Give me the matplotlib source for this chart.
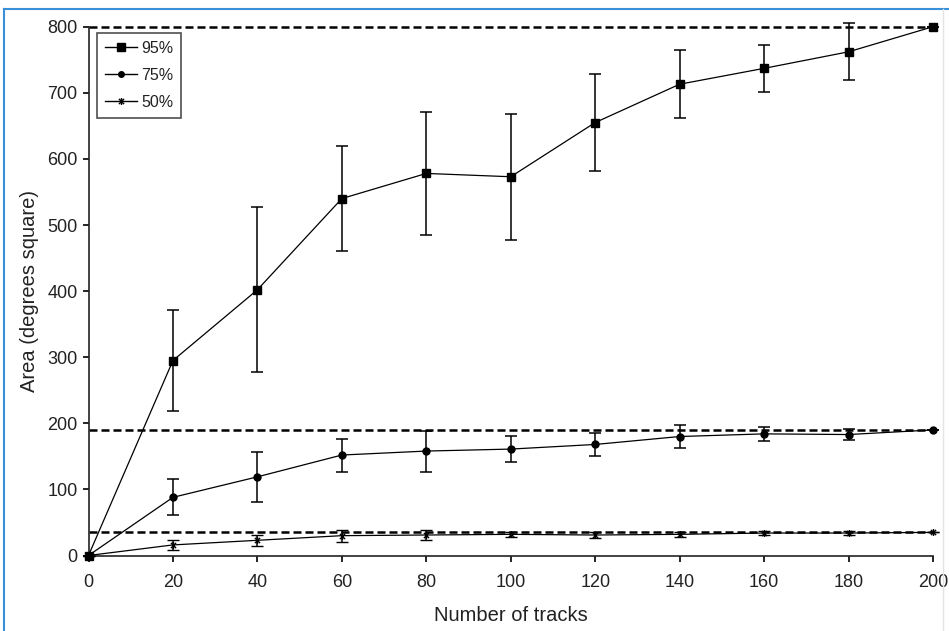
import numpy as np
import matplotlib
matplotlib.use("Agg")
import matplotlib.pyplot as plt
from matplotlib.path import Path
from matplotlib.lines import Line2D

plt.rcParams['font.family'] = ['Liberation Sans', 'DejaVu Sans']

tracks = [0, 20, 40, 60, 80, 100, 120, 140, 160, 180, 200]

# 95% contour area and its error
area95 = [0, 295, 402, 540, 578, 573, 655, 713, 737, 762, 800]
err95 = [0, 77, 125, 80, 93, 95, 74, 51, 36, 43, 0]

# 75%
area75 = [0, 88, 119, 152, 158, 161, 168, 180, 184, 183, 190]
err75 = [0, 27, 38, 25, 31, 20, 17, 18, 11, 8, 0]

# 50%
area50 = [0, 16, 23, 30, 31, 32, 31, 32, 34, 34, 35]
err50 = [0, 7, 8, 9, 7, 4, 4, 4, 3, 3, 0]

# asymptote (full dataset) levels
full_levels = [800, 190, 35]
labels = ['95%', '75%', '50%']

# excel style "star" marker: x with vertical bar
star = Path([(0, -1), (0, 1), (-0.75, -0.75), (0.75, 0.75), (-0.75, 0.75), (0.75, -0.75)],
            [Path.MOVETO, Path.LINETO, Path.MOVETO, Path.LINETO, Path.MOVETO, Path.LINETO])

W, H = 949, 631
fig = plt.figure(figsize=(W / 100, H / 100), dpi=100)
ax = fig.add_axes([88.5 / W, 1 - 555.5 / H, (933 - 88.5) / W, (555.5 - 26.7) / H])

txt = '#222222'
for lvl in full_levels:
    ax.plot([0, 200], [lvl, lvl], ls=(0, (3.2, 1.6)), color='black', lw=1.8, clip_on=False, zorder=2)

kw = dict(color='black', lw=0.9, capsize=4, elinewidth=1.1, capthick=1.1, clip_on=False, zorder=3)
ax.errorbar(tracks, area95, yerr=err95, marker='s', ms=6, **kw)
ax.errorbar(tracks, area75, yerr=err75, marker='o', ms=5, **kw)
ax.errorbar(tracks, area50, yerr=err50, marker=star, ms=5, mew=1.0, **kw)

ax.set_xlim(0, 200)
ax.set_ylim(0, 800)
ax.set_xticks(np.arange(0, 201, 20))
ax.set_yticks(np.arange(0, 801, 100))
for s in ['top', 'right']:
    ax.spines[s].set_visible(False)
for s in ['left', 'bottom']:
    ax.spines[s].set_linewidth(1.2)
    ax.spines[s].set_color('#222222')
ax.tick_params(direction='out', length=4, width=1.2, labelsize=13, labelcolor=txt)
ax.tick_params(axis='x', pad=9)
ax.tick_params(axis='y', pad=4)
ax.set_xlabel('Number of tracks', fontsize=14.5, color=txt, labelpad=11)
ax.set_ylabel('Area (degrees square)', fontsize=14.5, color=txt, labelpad=6)

handles = [
    Line2D([], [], color='black', lw=1, marker='s', ms=6),
    Line2D([], [], color='black', lw=1, marker='o', ms=4),
    Line2D([], [], color='black', lw=1, marker=star, ms=5, mew=1.0),
]
leg = ax.legend(handles, labels, loc='upper left', bbox_to_anchor=(97 / W, 1 - 33 / H),
                bbox_transform=fig.transFigure, fontsize=11.5, frameon=True, fancybox=False,
                handlelength=2.0, handletextpad=0.25, borderpad=0.5, labelspacing=0.75,
                borderaxespad=0)
leg.get_frame().set_edgecolor('#222222')
leg.get_frame().set_linewidth(1.2)
for t in leg.get_texts():
    t.set_color(txt)

# blue frame at left/top edge, light gray at right
fig.add_artist(Line2D([4 / W, 4 / W], [0, 1 - 9 / H], transform=fig.transFigure, color='#3a8fd9', lw=1.5))
fig.add_artist(Line2D([4 / W, 1], [1 - 9 / H, 1 - 9 / H], transform=fig.transFigure, color='#3a8fd9', lw=1.5))
fig.add_artist(Line2D([943 / W, 943 / W], [0, 1 - 9 / H], transform=fig.transFigure, color='#e4e4e4', lw=1.0))

fig.savefig('out.png', dpi=100)
